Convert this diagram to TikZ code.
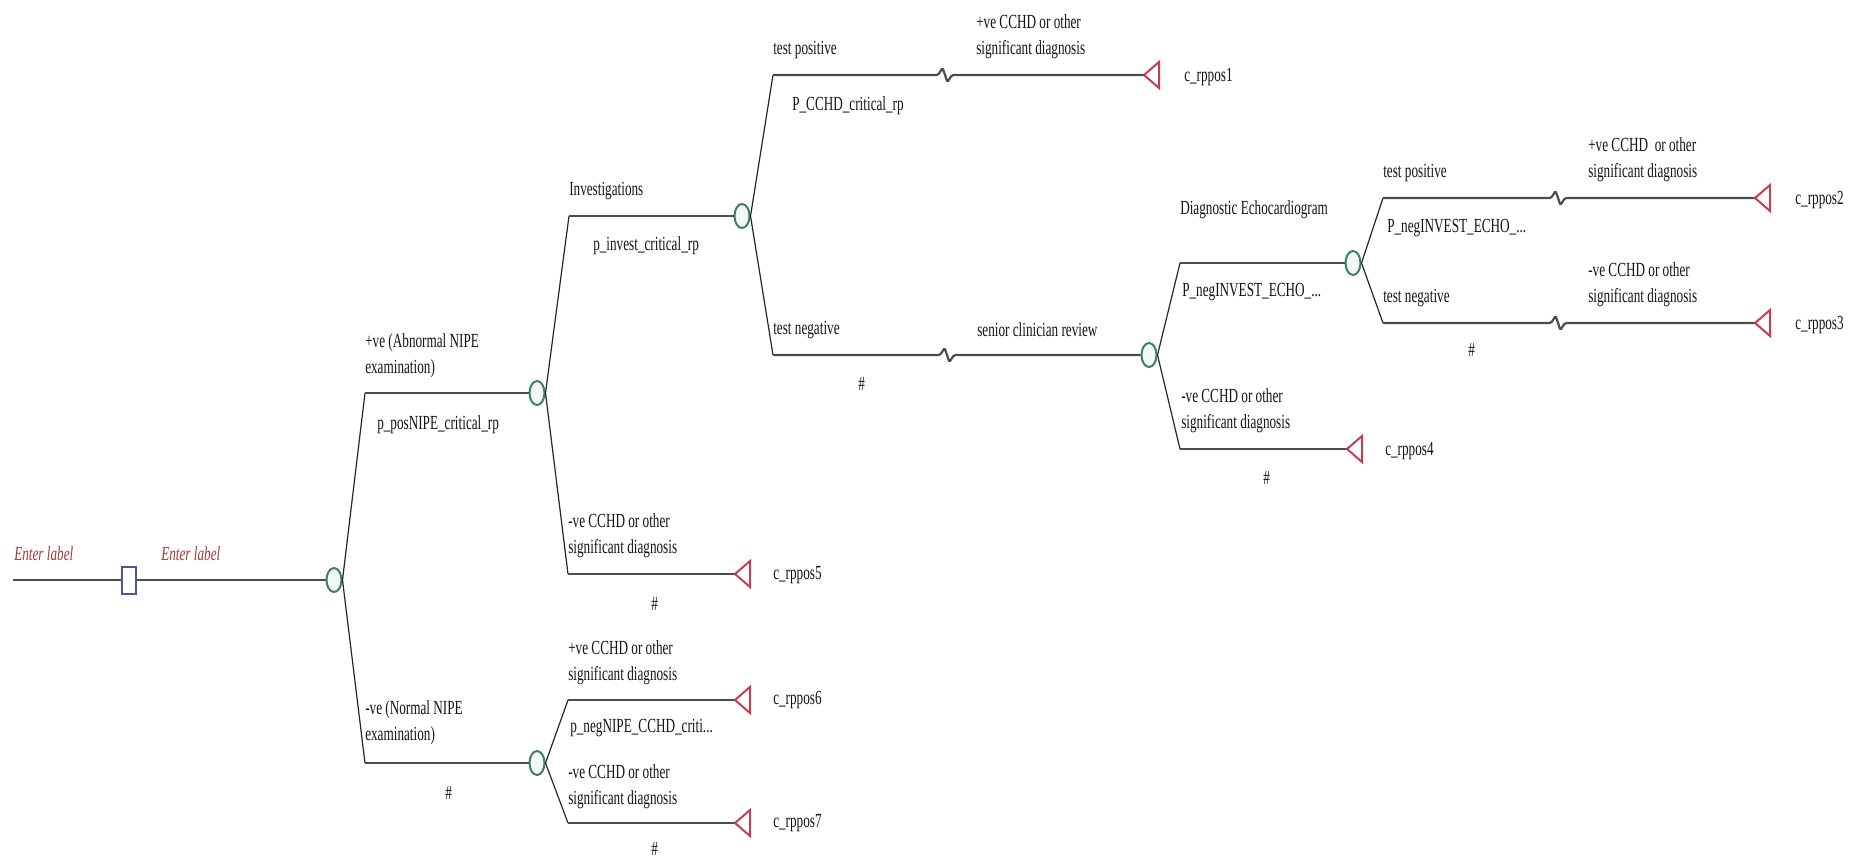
\documentclass[tikz,border=0pt]{standalone}
\usepackage{fontspec}
\setmainfont{Liberation Serif}
\usetikzlibrary{shapes.geometric}
\definecolor{chgreen}{RGB}{62,128,98}
\definecolor{decblue}{RGB}{70,88,150}
\definecolor{termred}{RGB}{196,62,82}
\definecolor{entred}{RGB}{158,58,58}
\begin{document}
\begin{tikzpicture}[x=0.5pt,y=-0.5pt]
    \tikzstyle{chance}=[ellipse,draw=chgreen,fill=chgreen!6,line width=1pt,minimum width=7.5pt,minimum height=12pt,inner sep=0pt]
    \tikzstyle{decision}=[rectangle,draw=decblue,fill=white,line width=1pt,minimum width=7pt,minimum height=13.5pt,inner sep=0pt]
    \tikzstyle{term}=[draw=termred,fill=white,line width=1pt,line join=miter]
    \tikzstyle{branch}=[draw=black!70,line width=1.1pt]
    \tikzstyle{fan}=[draw=black!85,line width=0.6pt]
    \tikzstyle{lbl}=[anchor=west,inner sep=0pt,align=left,xscale=0.66,text=black!92,font=\fontsize{10}{13}\selectfont]
    \tikzstyle{enter}=[lbl,text=entred,font=\fontsize{10}{13}\selectfont\itshape]
    \tikzstyle{zig}=[to path={-- ([xshift=-3.5pt]\tikztotarget) -- ([shift={(-1.2pt,3.5pt)}]\tikztotarget) -- ([shift={(1.2pt,-3.5pt)}]\tikztotarget) -- ([xshift=3.5pt]\tikztotarget)}]
    \useasboundingbox (0,0) rectangle (1850,862);
    % decision and chance nodes
    \coordinate (start) at (13,580);
    \node[decision] (dec) at (129,580) {};
    \node[chance] (cNIPE) at (334,580) {};
    \node[chance] (cAbn) at (537,393) {};
    \node[chance] (cNorm) at (537,763) {};
    \node[chance] (cInv) at (742,216) {};
    \node[chance] (cRev) at (1149,355) {};
    \node[chance] (cEcho) at (1353,263) {};
    % branch elbows
    \coordinate (eAbn) at (365,393);
    \coordinate (eNorm) at (365,763);
    \coordinate (eInv) at (569,216);
    \coordinate (eNeg5) at (568,574);
    \coordinate (ePos6) at (568,700);
    \coordinate (eNeg7) at (568,823);
    \coordinate (eTpos) at (773,75);
    \coordinate (eTneg) at (773,355);
    \coordinate (eEcho) at (1180,263);
    \coordinate (eNeg4) at (1180,449);
    \coordinate (eEpos) at (1383,198);
    \coordinate (eEneg) at (1383,323);
    % breaks
    \coordinate (k1) at (945,75);
    \coordinate (kRev) at (947,355);
    \coordinate (k2) at (1558,198);
    \coordinate (k3) at (1558,323);
    % terminals
    \coordinate (r1) at (1144,75);
    \coordinate (r2) at (1755,198);
    \coordinate (r3) at (1755,323);
    \coordinate (r4) at (1347,449);
    \coordinate (r5) at (735,574);
    \coordinate (r6) at (735,700);
    \coordinate (r7) at (735,823);

    \draw[branch] (start) -- (dec);
    \draw[branch] (dec) -- (cNIPE);
    \draw[fan] (cNIPE.east) -- (eAbn);
    \draw[branch] (eAbn) -- (cAbn);
    \draw[fan] (cNIPE.east) -- (eNorm);
    \draw[branch] (eNorm) -- (cNorm);
    \draw[fan] (cAbn.east) -- (eInv);
    \draw[branch] (eInv) -- (cInv);
    \draw[fan] (cAbn.east) -- (eNeg5);
    \draw[branch] (eNeg5) -- (r5);
    \draw[fan] (cNorm.east) -- (ePos6);
    \draw[branch] (ePos6) -- (r6);
    \draw[fan] (cNorm.east) -- (eNeg7);
    \draw[branch] (eNeg7) -- (r7);
    \draw[fan] (cInv.east) -- (eTpos);
    \draw[branch,rounded corners=0.7pt] (eTpos) to[zig] (k1) -- (r1);
    \draw[fan] (cInv.east) -- (eTneg);
    \draw[branch,rounded corners=0.7pt] (eTneg) to[zig] (kRev) -- (cRev);
    \draw[fan] (cRev.east) -- (eEcho);
    \draw[branch] (eEcho) -- (cEcho);
    \draw[fan] (cRev.east) -- (eNeg4);
    \draw[branch] (eNeg4) -- (r4);
    \draw[fan] (cEcho.east) -- (eEpos);
    \draw[branch,rounded corners=0.7pt] (eEpos) to[zig] (k2) -- (r2);
    \draw[fan] (cEcho.east) -- (eEneg);
    \draw[branch,rounded corners=0.7pt] (eEneg) to[zig] (k3) -- (r3);
    \foreach \r in {r1,r2,r3,r4,r5,r6,r7}
        \draw[term] (\r) -- ++(15,-13) -- ++(0,26) -- cycle;

    % labels
    \node[enter] (ent1) at (14,554) {Enter label};
    \node[enter] (ent2) at (161,554) {Enter label};
    \node[lbl] (lAbn) at (365,356) {+ve (Abnormal NIPE\\examination)};
    \node[lbl] (pAbn) at (377,425) {p\_posNIPE\_critical\_rp};
    \node[lbl] (lNorm) at (365,723) {-ve (Normal NIPE\\examination)};
    \node[lbl] (hNorm) at (445,793) {\#};
    \node[lbl] (lInv) at (569,191) {Investigations};
    \node[lbl] (pInv) at (593,246) {p\_invest\_critical\_rp};
    \node[lbl] (l5) at (568,536) {-ve CCHD or other\\significant diagnosis};
    \node[lbl] (h5) at (651,604) {\#};
    \node[lbl] (c5) at (773,575) {c\_rppos5};
    \node[lbl] (l6) at (568,663) {+ve CCHD or other\\significant diagnosis};
    \node[lbl] (p6) at (570,728) {p\_negNIPE\_CCHD\_criti...};
    \node[lbl] (c6) at (773,700) {c\_rppos6};
    \node[lbl] (l7) at (568,787) {-ve CCHD or other\\significant diagnosis};
    \node[lbl] (h7) at (651,849) {\#};
    \node[lbl] (c7) at (773,823) {c\_rppos7};
    \node[lbl] (lTpos) at (773,50) {test positive};
    \node[lbl] (pTpos) at (792,106) {P\_CCHD\_critical\_rp};
    \node[lbl] (l1) at (976,37) {+ve CCHD or other\\significant diagnosis};
    \node[lbl] (c1) at (1184,77) {c\_rppos1};
    \node[lbl] (lTneg) at (773,330) {test negative};
    \node[lbl] (hTneg) at (858,384) {\#};
    \node[lbl] (lRev) at (977,330) {senior clinician review};
    \node[lbl] (lEcho) at (1180,210) {Diagnostic Echocardiogram};
    \node[lbl] (pEcho) at (1182,292) {P\_negINVEST\_ECHO\_...};
    \node[lbl] (l4) at (1181,411) {-ve CCHD or other\\significant diagnosis};
    \node[lbl] (h4) at (1263,478) {\#};
    \node[lbl] (c4) at (1385,451) {c\_rppos4};
    \node[lbl] (lEpos) at (1383,173) {test positive};
    \node[lbl] (pEpos) at (1387,228) {P\_negINVEST\_ECHO\_...};
    \node[lbl] (l2) at (1588,160) {+ve CCHD\ \ or other\\significant diagnosis};
    \node[lbl] (c2) at (1795,200) {c\_rppos2};
    \node[lbl] (lEneg) at (1383,298) {test negative};
    \node[lbl] (hEneg) at (1468,350) {\#};
    \node[lbl] (l3) at (1588,285) {-ve CCHD or other\\significant diagnosis};
    \node[lbl] (c3) at (1795,325) {c\_rppos3};
\end{tikzpicture}
\end{document}
